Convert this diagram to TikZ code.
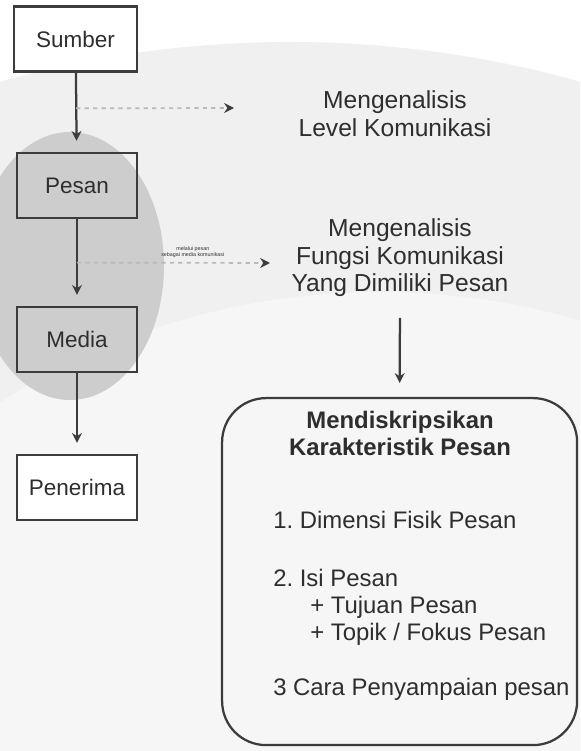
\documentclass[tikz,border=0pt]{standalone}
\usepackage{fontspec}
\setmainfont{Liberation Sans}
\usetikzlibrary{arrows.meta,positioning,calc}

\definecolor{garis}{HTML}{3C3C3C}
\definecolor{tulisan}{HTML}{2E2E2E}
\definecolor{latar}{HTML}{F0F0F0}
\definecolor{terang}{HTML}{F6F6F6}
\definecolor{bayang}{HTML}{CDCDCD}

\tikzset{
  kotak/.style={draw=garis, line width=1.6pt, minimum width=3cm, minimum height=1.62cm,
    text=tulisan, font=\fontsize{16}{19}\selectfont},
  panah/.style={draw=garis, line width=1.6pt, -{Stealth[length=7pt,width=7pt]}},
  putus/.style={draw=gray!55, line width=1.2pt, dashed,
    -{Stealth[length=7pt,width=7pt,color=garis]}},
  teks/.style={text=tulisan, align=center, font=\fontsize{17.5}{19.5}\selectfont},
  isi/.style={text=tulisan, anchor=west, font=\fontsize{17}{19.5}\selectfont, inner sep=0pt}
}

\begin{document}
\frenchspacing
\begin{tikzpicture}
    \useasboundingbox (0,0) rectangle (14.5,-18.775);
    % latar dan bayangan logo
    \fill[white] (0,0) rectangle (14.5,-18.775);
    \begin{scope}
      \clip (0,0) rectangle (14.5,-18.775);
      \fill[latar] (7.25,-27.85) circle (26.8);
      \fill[terang] (9.5,-25) circle (17.7);
    \end{scope}
    \fill[bayang] (1.75,-6.65) ellipse (2.35 and 3.35);

    % alur komunikasi
    \node[kotak, fill=white, minimum width=3.08cm] (sumber) at (1.89,-0.975) {Sumber};
    \node[kotak] (pesan) at (1.925,-4.64) {Pesan};
    \node[kotak] (media) at (1.925,-8.49) {Media};
    \node[kotak, fill=white] (penerima) at (1.925,-12.19) {Penerima};

    \draw[panah, shorten >=8pt] (sumber) -- (pesan);
    \draw[panah, shorten >=8pt] (pesan) -- (media);
    \draw[panah, shorten >=8pt] (media) -- (penerima);

    % analisis
    \node[teks] (level) at (9.875,-2.84) {Mengenalisis\\Level Komunikasi};
    \node[teks] (fungsi) at (10.0,-6.45) {Mengenalisis\\Fungsi Komunikasi\\Yang Dimiliki Pesan};

    \coordinate (a1) at ($(sumber.south)!0.45!(pesan.north)$);
    \coordinate (b1) at (5.85,-2.7);
    \draw[putus] (a1) -- (b1);

    \coordinate (a2) at ($(pesan.south)!0.5!(media.north)$);
    \coordinate (b2) at (6.75,-6.575);
    \draw[putus] (a2) -- (b2)
      node[pos=0.6, above, align=center, text=tulisan, inner sep=3pt,
           font=\fontsize{3.8}{4.4}\selectfont] {melalui pesan\\sebagai media komunikasi};

    % karakteristik pesan
    \node[draw=garis, line width=1.6pt, rounded corners=1.1cm,
          minimum width=8.875cm, minimum height=8.675cm] (karakter) at (9.99,-14.29) {};
    \draw[panah, shorten <=0.4cm, shorten >=0.35cm] (fungsi.south) -- (karakter.north);

    \node[teks, font=\bfseries\fontsize{17}{19.5}\selectfont] (judul) at (10.0,-10.84)
      {Mendiskripsikan\\Karakteristik Pesan};
    \node[isi] (dimensi) at (6.825,-13.0) {1. Dimensi Fisik Pesan};
    \node[isi] (isipesan) at (6.825,-14.45) {2. Isi Pesan};
    \node[isi] (tujuan) at (7.75,-15.175) {+ Tujuan Pesan};
    \node[isi] (topik) at (7.75,-15.85) {+ Topik / Fokus Pesan};
    \node[isi] (cara) at (6.825,-17.225) {3 Cara Penyampaian pesan};
\end{tikzpicture}
\end{document}
